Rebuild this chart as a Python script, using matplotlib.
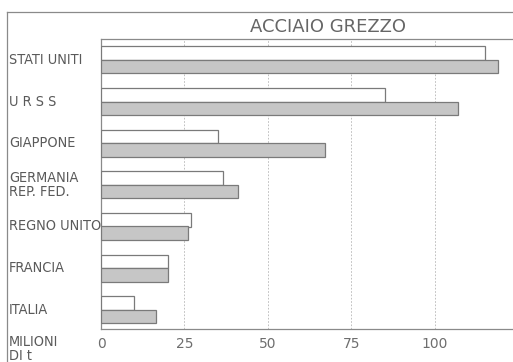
import matplotlib
matplotlib.use("Agg")
import matplotlib.pyplot as plt
import numpy as np
from matplotlib.lines import Line2D
from matplotlib import font_manager

countries = ["STATI UNITI", "U R S S", "GIAPPONE", "GERMANIA\nREP. FED.", "REGNO UNITO", "FRANCIA", "ITALIA"]
values_white = [115, 85, 35, 36.5, 27, 20, 10]
values_gray = [119, 107, 67, 41, 26, 20, 16.5]
xticks = [0, 25, 50, 75, 100]
title = "ACCIAIO GREZZO"
unit_label = "MILIONI\nDI t"

txt = "#5a5a5a"
edge = "#7a7a7a"
cond = [f for f in font_manager.fontManager.ttflist if f.name == "DejaVu Sans" and f.stretch == "condensed"]
lab_kw = dict(family="DejaVu Sans", stretch="condensed", fontsize=10.4) if cond else dict(family="DejaVu Sans", fontsize=9.0)

fig = plt.figure(figsize=(5.13, 3.62), dpi=100)
W, H = 513, 362
ax = fig.add_axes([101 / W, (H - 329) / H, (W - 101) / W, (329 - 39) / H])

n = len(countries)
pos = np.arange(n)[::-1]
h = 0.32
ax.barh(pos + h / 2, values_white, height=h, color="white", edgecolor=edge, linewidth=0.9, zorder=3)
ax.barh(pos - h / 2, values_gray, height=h, color="#c6c6c6", edgecolor=edge, linewidth=0.9, zorder=3)

ax.set_xlim(0, 123.4)
ax.set_ylim(-0.46, n - 1 + 0.5)
ax.set_xticks(xticks)
ax.set_xticklabels([str(t) for t in xticks], color="#6e6e6e", fontsize=10, family="DejaVu Sans")
ax.tick_params(axis="x", length=0, pad=6)
ax.set_yticks([])
for x in xticks[1:]:
    ax.axvline(x, color="#b5b5b5", lw=0.6, ls=(0, (2, 2)), zorder=1)
for s in ["left", "top", "bottom"]:
    ax.spines[s].set_color("#8a8a8a")
    ax.spines[s].set_linewidth(0.9)
ax.spines["right"].set_visible(False)

for p, c in zip(pos, countries):
    ax.annotate(c, xy=(0, p), xycoords=("figure fraction", "data"), xytext=(9, 0),
                textcoords="offset pixels", ha="left", va="center", color=txt,
                linespacing=0.95, **lab_kw)

fig.text(9 / W, (H - 349) / H, unit_label, ha="left", va="center", color=txt,
         linespacing=0.95, **lab_kw)
fig.text(328 / W, (H - 27) / H, title, ha="center", va="center", color="#666666",
         fontsize=13, family="DejaVu Sans")

fig.add_artist(Line2D([7 / W, 7 / W], [0, (H - 12) / H], transform=fig.transFigure, color="#8a8a8a", lw=0.9))
fig.add_artist(Line2D([7 / W, 1], [(H - 12) / H, (H - 12) / H], transform=fig.transFigure, color="#8a8a8a", lw=0.9))

fig.savefig("out.png", dpi=100)
